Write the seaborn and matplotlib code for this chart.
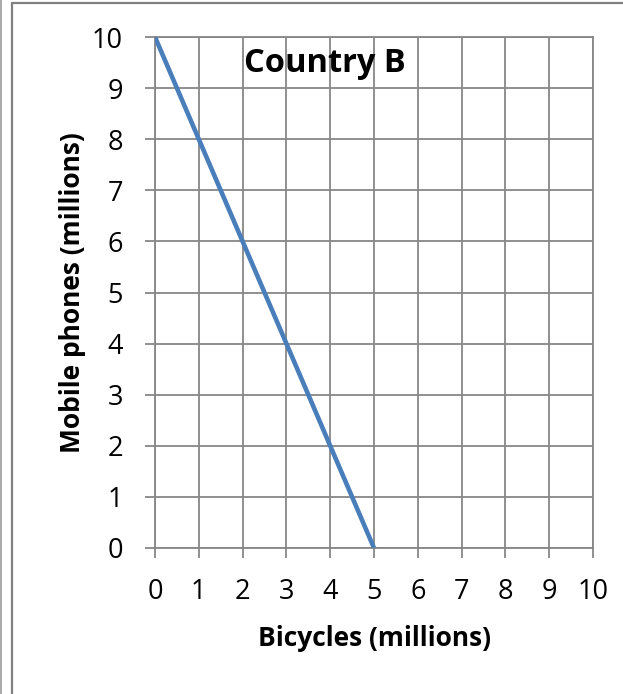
import matplotlib
matplotlib.use("Agg")
import matplotlib.pyplot as plt
from matplotlib.lines import Line2D
import seaborn as sns
import pandas as pd

# Data
bicycles = [0, 1, 2, 3, 4, 5]          # millions
phones = [10, 8, 6, 4, 2, 0]           # millions
x_ticks = [0, 1, 2, 3, 4, 5, 6, 7, 8, 9, 10]
y_ticks = [0, 1, 2, 3, 4, 5, 6, 7, 8, 9, 10]
title = "Country B"
x_label = "Bicycles (millions)"
y_label = "Mobile phones (millions)"

sns.set_theme(style="white")
plt.rcParams["font.family"] = ["Open Sans", "DejaVu Sans"]

GRID = "#878787"
BLUE = "#4A7EBB"

fig = plt.figure(figsize=(6.23, 6.94), dpi=100)
ax = fig.add_axes([155 / 623, 1 - 548 / 694, (593 - 155) / 623, (548 - 37) / 694])

df = pd.DataFrame({"Bicycles": bicycles, "Phones": phones})
sns.lineplot(data=df, x="Bicycles", y="Phones", ax=ax, color=BLUE,
             linewidth=3.3, solid_capstyle="butt", zorder=5)

ax.set_xlim(0, 10)
ax.set_ylim(0, 10)
ax.set_xticks(x_ticks)
ax.set_yticks(y_ticks)
ax.set_xticklabels([str(v) for v in x_ticks])
ax.set_yticklabels([str(v) for v in y_ticks])
ax.grid(True, color=GRID, linewidth=1.3)
for s in ax.spines.values():
    s.set_color(GRID)
    s.set_linewidth(1.3)
ax.tick_params(axis="both", which="major", direction="out", length=7.5,
               width=1.3, color=GRID, labelsize=19.5, labelcolor="black")
ax.tick_params(axis="x", pad=14, bottom=True)
ax.tick_params(axis="y", pad=15.5, left=True)

ax.set_xlabel(x_label, fontsize=19, fontweight="bold", labelpad=14, color="black")
ax.set_ylabel(y_label, fontsize=19, fontweight="bold", labelpad=4, color="black")

ax.text(3.88, 9.49, title, fontsize=23.5, fontweight="bold", color="black",
        ha="center", va="center", zorder=6)

# Outer frame decoration
fig.add_artist(Line2D([0.6 / 623, 0.6 / 623], [0, 1], transform=fig.transFigure,
                      color="#9a9a9a", linewidth=1.2))
fig.add_artist(Line2D([12 / 623, 12 / 623], [0, 1 - 3 / 694], transform=fig.transFigure,
                      color="#808080", linewidth=1.6))
fig.add_artist(Line2D([12 / 623, 1], [1 - 3 / 694, 1 - 3 / 694], transform=fig.transFigure,
                      color="#808080", linewidth=1.6))

fig.savefig("out.png", dpi=100)
